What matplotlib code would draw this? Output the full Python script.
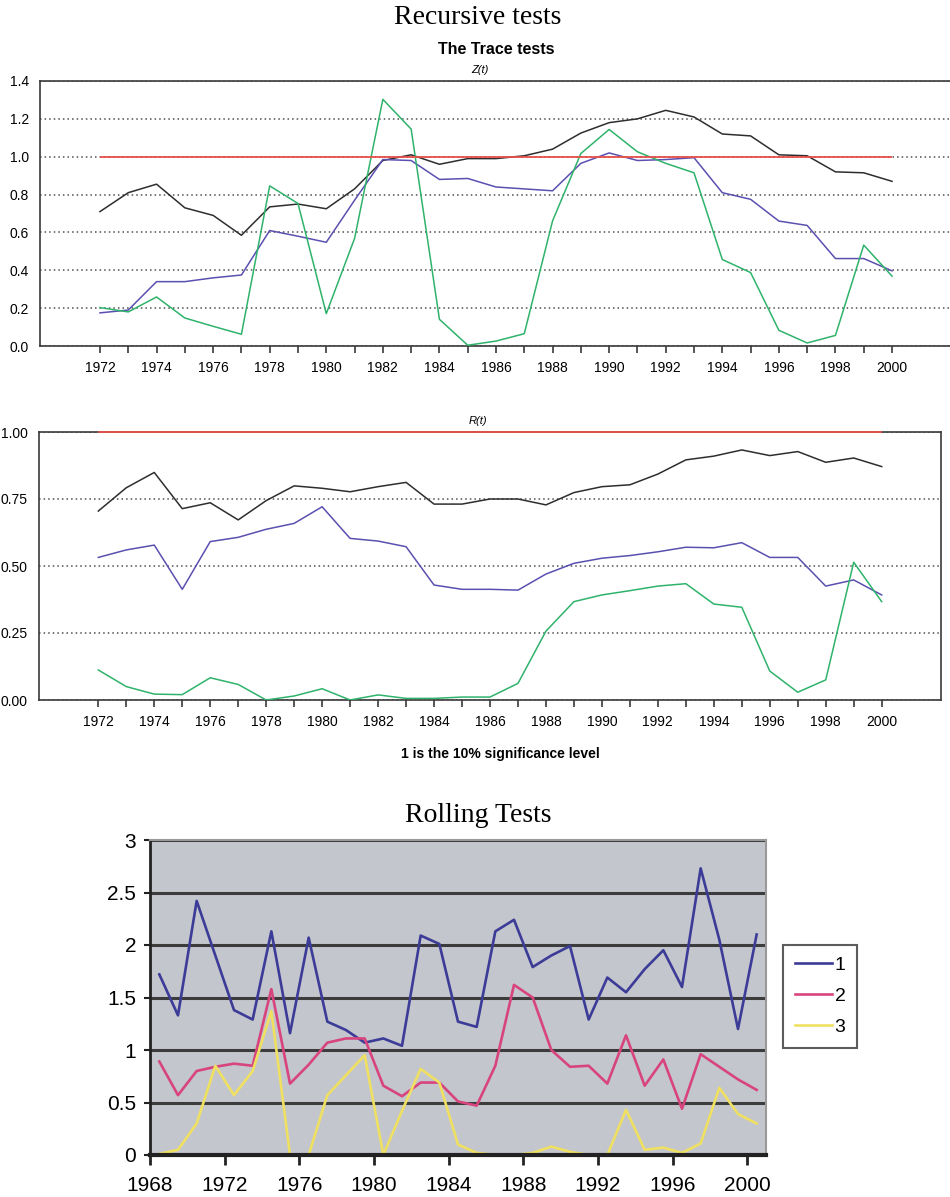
import numpy as np
import matplotlib
matplotlib.use("Agg")
import matplotlib.pyplot as plt

plt.rcParams['font.family'] = ['Liberation Sans', 'DejaVu Sans']

# recursive tests, 1972-2000
years = list(range(1972, 2001))
threshold = 1.0

z_black = [0.71, 0.81, 0.855, 0.73, 0.69, 0.585, 0.735, 0.75, 0.725, 0.83, 0.98, 1.01, 0.96, 0.99,
           0.99, 1.005, 1.04, 1.125, 1.18, 1.20, 1.245, 1.21, 1.12, 1.11, 1.01, 1.005, 0.92, 0.915, 0.87]
z_blue = [0.175, 0.19, 0.34, 0.34, 0.36, 0.375, 0.61, 0.58, 0.548, 0.77, 0.985, 0.98, 0.88, 0.885,
          0.84, 0.83, 0.82, 0.965, 1.02, 0.98, 0.985, 0.995, 0.81, 0.775, 0.66, 0.637, 0.462, 0.462, 0.397]
z_green = [0.203, 0.18, 0.259, 0.148, 0.104, 0.062, 0.846, 0.753, 0.171, 0.568, 1.303, 1.146, 0.141, 0.004,
           0.026, 0.065, 0.661, 1.017, 1.144, 1.026, 0.965, 0.915, 0.457, 0.388, 0.083, 0.016, 0.056, 0.533, 0.369]

r_black = [0.705, 0.792, 0.849, 0.714, 0.736, 0.672, 0.744, 0.799, 0.79, 0.777, 0.796, 0.812, 0.731, 0.731,
           0.75, 0.75, 0.728, 0.774, 0.796, 0.803, 0.843, 0.896, 0.91, 0.933, 0.912, 0.927, 0.887, 0.903, 0.871]
r_blue = [0.532, 0.56, 0.578, 0.413, 0.591, 0.607, 0.637, 0.659, 0.721, 0.603, 0.593, 0.572, 0.429, 0.413,
          0.413, 0.41, 0.47, 0.51, 0.529, 0.539, 0.553, 0.57, 0.568, 0.587, 0.532, 0.532, 0.425, 0.448, 0.392]
r_green = [0.112, 0.05, 0.022, 0.02, 0.083, 0.058, 0.0, 0.015, 0.042, 0.0, 0.019, 0.006, 0.006, 0.011,
           0.011, 0.062, 0.257, 0.367, 0.392, 0.408, 0.425, 0.434, 0.358, 0.346, 0.108, 0.029, 0.075, 0.514, 0.367]

# rolling tests, 1968-2000
roll_years = list(range(1968, 2001))
roll_1 = [1.72, 1.33, 2.42, 1.90, 1.38, 1.29, 2.13, 1.16, 2.07, 1.27, 1.19, 1.07, 1.11, 1.04, 2.09, 2.01, 1.27,
          1.22, 2.13, 2.24, 1.79, 1.90, 1.99, 1.29, 1.69, 1.55, 1.77, 1.95, 1.60, 2.73, 2.05, 1.20, 2.10]
roll_2 = [0.89, 0.57, 0.80, 0.84, 0.87, 0.85, 1.58, 0.68, 0.86, 1.07, 1.11, 1.11, 0.66, 0.56, 0.69, 0.69, 0.51,
          0.47, 0.85, 1.62, 1.50, 1.00, 0.84, 0.85, 0.68, 1.14, 0.66, 0.91, 0.44, 0.96, 0.84, 0.72, 0.62]
roll_3 = [0.01, 0.05, 0.30, 0.85, 0.57, 0.80, 1.37, 0.0, 0.0, 0.57, 0.76, 0.95, 0.0, 0.42, 0.82, 0.69, 0.10,
          0.02, 0.0, 0.0, 0.02, 0.08, 0.03, 0.0, 0.0, 0.43, 0.05, 0.07, 0.02, 0.11, 0.64, 0.39, 0.30]

c_black = '#2e2e2e'
c_blue = '#5a50b0'
c_green = '#2fb36b'
c_red = '#e8504a'
axis_col = '#3a3a3a'

fig = plt.figure(figsize=(9.5, 11.97), dpi=100)
W, H = 950, 1197


def px_axes(x0, y0, x1, y1):
    return fig.add_axes([x0 / W, 1 - y1 / H, (x1 - x0) / W, (y1 - y0) / H])


def recursive_panel(ax, series, ylim, yticks, ylabels):
    for vals, col in series:
        ax.plot(years, vals, color=col, lw=1.1, zorder=3)
    ax.set_xlim(years[0] - 2.12, years[-1] + 2.12)
    ax.set_ylim(*ylim)
    ax.set_xticks(years)
    ax.set_xticklabels([str(y) if y % 2 == 0 else '' for y in years], fontsize=10)
    ax.set_yticks(yticks)
    ax.set_yticklabels(ylabels, fontsize=10)
    ax.tick_params(axis='x', direction='out', length=5, width=1.2, color=axis_col, pad=6)
    ax.tick_params(axis='y', length=0, pad=8)
    ax.grid(axis='y', color='#505050', linestyle=(0, (1, 2)), lw=1.1)
    for s in ax.spines.values():
        s.set_color(axis_col)
        s.set_linewidth(1.2)


# Z(t) panel
ax1 = px_axes(40, 81, 952, 346)
recursive_panel(ax1, [(z_black, c_black), (z_blue, c_blue), (z_green, c_green)],
                (0, 1.4), np.arange(0, 1.41, 0.2), ['%.1f' % v for v in np.arange(0, 1.41, 0.2)])
ax1.hlines(threshold, years[0], years[-1], color=c_red, lw=1.3, zorder=4)
ax1.spines['right'].set_visible(False)

# R(t) panel
ax2 = px_axes(39, 432, 941, 700)
recursive_panel(ax2, [(r_black, c_black), (r_blue, c_blue), (r_green, c_green)],
                (0, 1.0), [0, 0.25, 0.5, 0.75, 1.0], ['0.00', '0.25', '0.50', '0.75', '1.00'])
ax2.hlines(threshold, years[0], years[-1], color=c_red, lw=1.3, zorder=5, clip_on=False)

fig.text(478 / W, 1 - 18 / H, 'Recursive tests', ha='center', va='center',
         fontsize=20, family='Liberation Serif')
fig.text(496 / W, 1 - 49 / H, 'The Trace tests', ha='center', va='center',
         fontsize=11.5, fontweight='bold')
fig.text(480 / W, 1 - 70 / H, 'Z(t)', ha='center', va='center', fontsize=8, style='italic')
fig.text(478 / W, 1 - 421 / H, 'R(t)', ha='center', va='center', fontsize=8, style='italic')
fig.text(500 / W, 1 - 754 / H, '1 is the 10% significance level', ha='center', va='center',
         fontsize=10, fontweight='bold')

# Rolling tests panel
ax3 = px_axes(150, 840, 766, 1155)
ax3.set_facecolor('#c3c6cc')
xr = np.arange(len(roll_years))
# zorder 2 so values at zero sit under the x axis line, as in the original
ax3.plot(xr, roll_1, color='#3c3c98', lw=1.9, label='1', zorder=2)
ax3.plot(xr, roll_2, color='#d8447e', lw=1.9, label='2', zorder=2)
ax3.plot(xr, roll_3, color='#efe062', lw=1.9, label='3', zorder=2)
ax3.set_xlim(-0.5, len(roll_years) - 0.5)
ax3.set_ylim(0, 3)
ax3.set_xticks(xr[::4] - 0.5)
ax3.set_xticklabels([str(y) for y in roll_years[::4]], fontsize=15)
ax3.set_yticks([0, 0.5, 1, 1.5, 2, 2.5, 3])
ax3.set_yticklabels(['0', '0.5', '1', '1.5', '2', '2.5', '3'], fontsize=15)
ax3.grid(axis='y', color='#3c3c3c', lw=2.2)
ax3.tick_params(axis='x', direction='out', length=7, width=2, color='#222222', pad=8)
ax3.tick_params(axis='y', direction='out', length=4, width=1.5, color='#222222', pad=6)
ax3.spines['left'].set_color('#222222')
ax3.spines['bottom'].set_color('#222222')
ax3.spines['left'].set_linewidth(2)
ax3.spines['bottom'].set_linewidth(3)
ax3.spines['top'].set_color('#999999')
ax3.spines['right'].set_color('#999999')
ax3.spines['top'].set_linewidth(1.5)
ax3.spines['right'].set_linewidth(1.5)

fig.text(478 / W, 1 - 815 / H, 'Rolling Tests', ha='center', va='center',
         fontsize=20, family='Liberation Serif')

leg = fig.legend(loc='upper left', bbox_to_anchor=(783 / W, 1 - 945 / H), fontsize=14,
                 frameon=True, fancybox=False, handlelength=1.9, handletextpad=0.15,
                 labelspacing=0.68, borderpad=0.6, borderaxespad=0)
leg.get_frame().set_edgecolor('#333333')
leg.get_frame().set_linewidth(1.5)

fig.savefig('out.png', dpi=100)
